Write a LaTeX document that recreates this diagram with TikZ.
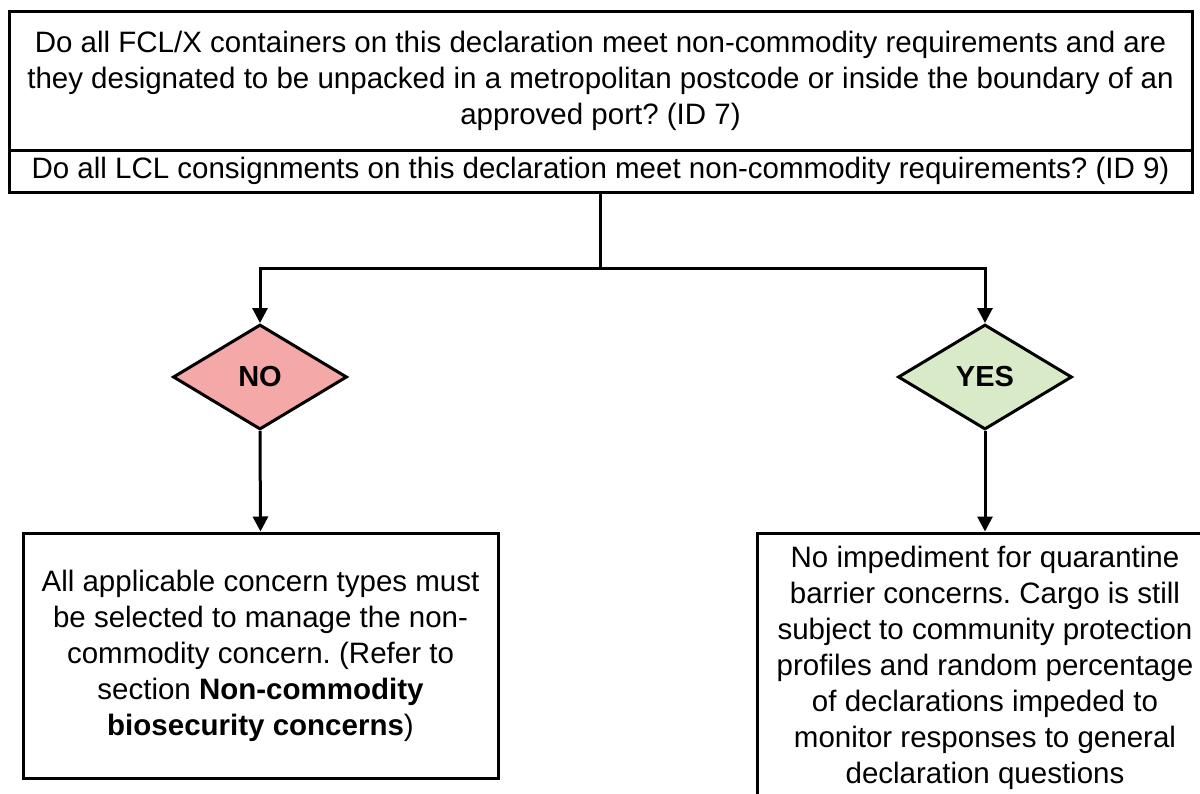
\documentclass[tikz,border=0pt]{standalone}
\usepackage{fontspec}
\setmainfont{Liberation Sans}
\usetikzlibrary{shapes.geometric,arrows.meta}
\definecolor{nofill}{RGB}{244,168,168}
\definecolor{yesfill}{RGB}{216,234,199}
\frenchspacing
\tikzset{
  box/.style={draw=black, line width=3pt, rectangle, inner sep=0pt, align=center,
    font=\fontsize{29.5}{36}\selectfont},
  dec/.style={draw=black, line width=3pt, diamond, inner sep=0pt,
    minimum width=174pt, minimum height=105pt, font=\fontsize{29}{32}\selectfont\bfseries},
  conn/.style={line width=3pt, -{Triangle[length=15pt,width=15pt]}},
  line/.style={line width=3pt}
}
\begin{document}
\begin{tikzpicture}[x=1pt,y=-1pt]
\useasboundingbox (0,0) rectangle (1200,793);
\node[box, minimum width=1183pt, minimum height=139pt] (q1) at (600.5,80.5)
  {Do all FCL/X containers on this declaration meet non-commodity requirements and are\\
   they designated to be unpacked in a metropolitan postcode or inside the boundary of an\\
   approved port? (ID 7)};
\node[box, minimum width=1183pt, minimum height=42pt] (q2) at (600.5,171)
  {Do all LCL consignments on this declaration meet non-commodity requirements? (ID 9)};
\node[dec, fill=nofill] (no) at (260,377) {NO};
\node[dec, fill=yesfill] (yes) at (985,377) {YES};
\node[box, minimum width=475pt, minimum height=245pt] (lb) at (260.5,655.5)
  {All applicable concern types must\\ be selected to manage the non-\\
   commodity concern. (Refer to\\ section \textbf{Non-commodity}\\
   \textbf{biosecurity concerns})};
\node[box, minimum width=456pt, minimum height=270pt] (rb) at (985,668)
  {No impediment for quarantine\\ barrier concerns. Cargo is still\\
   subject to community protection\\ profiles and random percentage\\
   of declarations impeded to\\ monitor responses to general\\
   declaration questions};
\coordinate (j) at (q2.south |- 0,268);
\draw[line] (q2.south) -- (j);
\draw[conn] (j) -| (no.north);
\draw[conn] (j) -| (yes.north);
\draw[conn] (no.south) -- (lb.north);
\draw[conn] (yes.south) -- (rb.north);
\end{tikzpicture}
\end{document}
